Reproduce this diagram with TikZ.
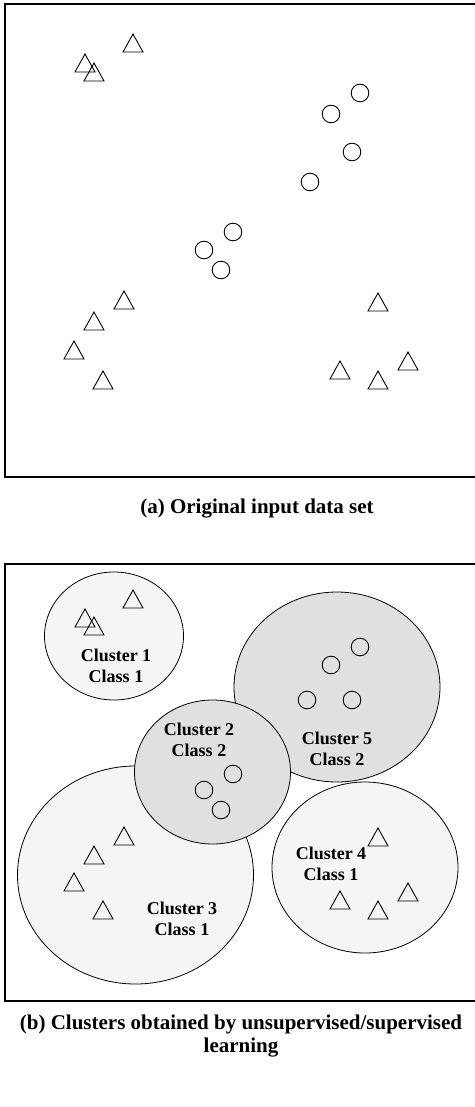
\documentclass[tikz,border=0pt]{standalone}
\usepackage{fontspec}
\setmainfont{Liberation Serif}
\begin{document}
\begin{tikzpicture}[x=1pt,y=-1pt,
  frame/.style={draw=black,line width=1.3pt},
  clusterlight/.style={draw=black,line width=0.8pt,fill=black!4},
  clusterdark/.style={draw=black,line width=0.8pt,fill=black!12},
  label/.style={font=\fontsize{18}{20.5}\selectfont\bfseries,align=center,inner sep=0pt},
  caption/.style={font=\fontsize{21}{23}\selectfont\bfseries,align=center,inner sep=0pt},
  pics/tri/.style={code={\draw[line width=0.9pt,line join=miter] (-10,0) -- (0,-18) -- (10,0) -- cycle;}},
  pics/dot/.style={code={\draw[line width=0.9pt] (0,0) circle[radius=8.8];}}
]
\useasboundingbox (0,0) rectangle (474,1107);

% ---------- (a) raw data ----------
\draw[frame] (5,4) rectangle (478,477);
\foreach \x/\y in {133/52, 85/72, 94/81, 124/309, 94/330, 74/359, 103/389,
                   378/311, 408/370, 340/379, 378/389}
  \pic at (\x,\y) {tri};
\foreach \x/\y in {360/93, 331/114, 352/152, 310/182, 233/232, 204/250, 221/270}
  \pic at (\x,\y) {dot};
\node[caption] (capa) at (257,509) {(a) Original input data set};

% ---------- (b) clusters ----------
\draw[frame] (5,564) rectangle (478,1001);
\path[clusterlight] (114,636) ellipse[x radius=69.5, y radius=64];
\path[clusterdark]  (337,687) ellipse[x radius=103, y radius=95];
\path[clusterlight] (365,867.5) ellipse[x radius=93, y radius=85.5];
\path[clusterlight] (135.5,875) ellipse[x radius=118, y radius=109];
\path[clusterdark]  (212.5,772) ellipse[x radius=78, y radius=72];

\foreach \x/\y in {133/608, 85/627, 94/635, 124/845, 94/864, 74/891, 103/919,
                   378/846, 408/901, 340/909, 378/919}
  \pic at (\x,\y) {tri};
\foreach \x/\y in {360/647, 331/665, 307/700, 352/700, 233/774, 204/790, 221/810}
  \pic at (\x,\y) {dot};

\node[label] (c1) at (116,666) {Cluster 1\\Class 1};
\node[label] (c2) at (199,740) {Cluster 2\\Class 2};
\node[label] (c5) at (337,749) {Cluster 5\\Class 2};
\node[label] (c3) at (182,919) {Cluster 3\\Class 1};
\node[label] (c4) at (331,864) {Cluster 4\\Class 1};

\node[caption] (capb) at (241,1036) {(b) Clusters obtained by unsupervised/supervised\\learning};
\end{tikzpicture}
\end{document}
